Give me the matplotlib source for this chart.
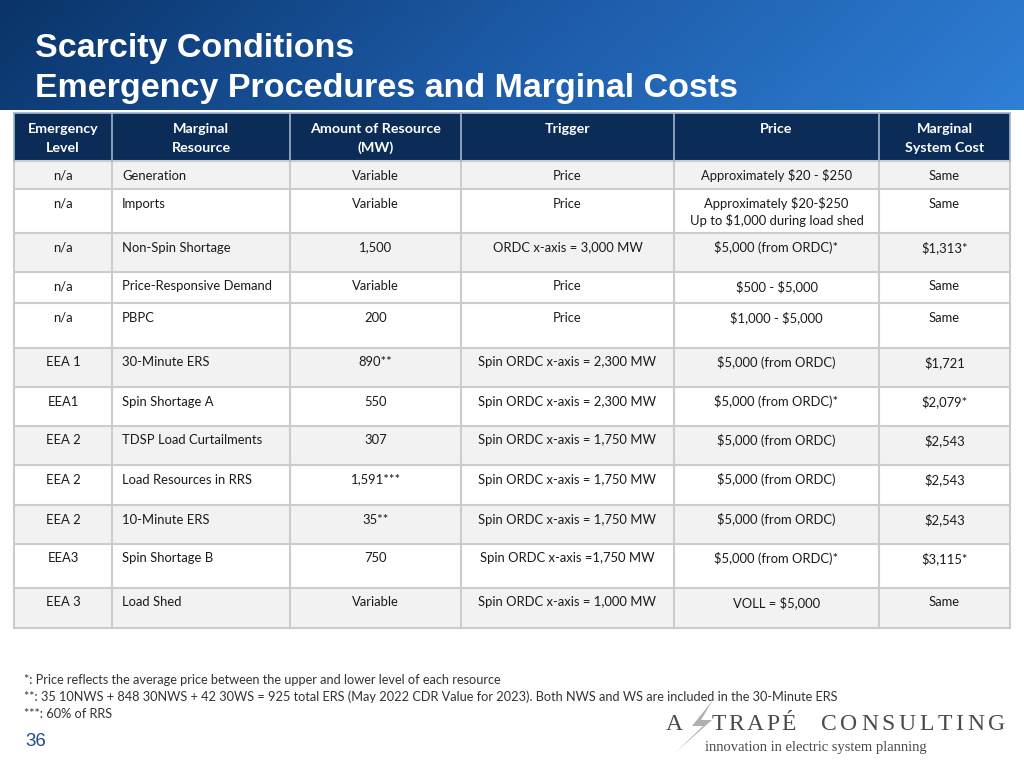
import numpy as np
import matplotlib.pyplot as plt
from matplotlib.patches import Rectangle, Polygon
from matplotlib.colors import LinearSegmentedColormap

plt.rcParams["text.parse_math"] = False

# table content
headers = ["Emergency\nLevel", "Marginal\nResource", "Amount of Resource\n(MW)",
           "Trigger", "Price", "Marginal\nSystem Cost"]
levels = ["n/a", "n/a", "n/a", "n/a", "n/a", "EEA 1", "EEA1", "EEA 2", "EEA 2",
          "EEA 2", "EEA3", "EEA 3"]
resources = ["Generation", "Imports", "Non-Spin Shortage", "Price-Responsive Demand",
             "PBPC", "30-Minute ERS", "Spin Shortage A", "TDSP Load Curtailments",
             "Load Resources in RRS", "10-Minute ERS", "Spin Shortage B", "Load Shed"]
amounts = ["Variable", "Variable", "1,500", "Variable", "200", "890**", "550", "307",
           "1,591***", "35**", "750", "Variable"]
triggers = ["Price", "Price", "ORDC x-axis = 3,000 MW", "Price", "Price",
            "Spin ORDC x-axis = 2,300 MW", "Spin ORDC x-axis = 2,300 MW",
            "Spin ORDC x-axis = 1,750 MW", "Spin ORDC x-axis = 1,750 MW",
            "Spin ORDC x-axis = 1,750 MW", "Spin ORDC x-axis =1,750 MW",
            "Spin ORDC x-axis = 1,000 MW"]
prices = ["Approximately $20 - $250",
          "Approximately $20-$250\nUp to $1,000 during load shed",
          "$5,000 (from ORDC)*", "$500 - $5,000", "$1,000 - $5,000",
          "$5,000 (from ORDC)", "$5,000 (from ORDC)*", "$5,000 (from ORDC)",
          "$5,000 (from ORDC)", "$5,000 (from ORDC)", "$5,000 (from ORDC)*",
          "VOLL = $5,000"]
costs = ["Same", "Same", "$1,313*", "Same", "Same", "$1,721", "$2,079*", "$2,543",
         "$2,543", "$2,543", "$3,115*", "Same"]
footnotes = ["*: Price reflects the average price between the upper and lower level of each resource",
             "**: 35 10NWS + 848 30NWS + 42 30WS = 925 total ERS (May 2022 CDR Value for 2023). Both NWS and WS are included in the 30-Minute ERS",
             "***: 60% of RRS"]

# layout (pixels)
col_edges = [14, 112, 290, 461, 674, 879, 1010]
row_edges = [113, 161, 189, 233, 272, 303, 348, 387, 426, 465, 505, 544, 588, 628]
shaded = [1, 0, 1, 0, 0, 1, 0, 1, 0, 1, 0, 1]
aligns = ["center", "left", "center", "center", "center", "center"]

body_font = ["Lato", "DejaVu Sans"]
NAVY = "#0b2c56"

fig = plt.figure(figsize=(10.24, 7.68), dpi=100)
ax = fig.add_axes([0, 0, 1, 1])
ax.set_xlim(0, 1024)
ax.set_ylim(768, 0)
ax.axis("off")

# title band gradient
cmap = LinearSegmentedColormap.from_list("band", ["#0a3469", "#1d5ba8", "#2f7fd6"])
gx = np.linspace(0, 1, 256)
gy = np.linspace(0, 1, 20)
grad = np.clip(gx[None, :] * 0.9 + gy[:, None] * 0.1, 0, 1)
ax.imshow(grad, cmap=cmap, extent=[0, 1024, 110, 0], aspect="auto", zorder=0)

ax.text(35, 49, "Scarcity Conditions", color="white", fontsize=24.5,
        fontweight="bold", family="Liberation Sans", va="center", ha="left")
ax.text(35, 88, "Emergency Procedures and Marginal Costs", color="white", fontsize=24.5,
        fontweight="bold", family="Liberation Sans", va="center", ha="left")

# header row
ax.add_patch(Rectangle((col_edges[0], row_edges[0]), col_edges[-1] - col_edges[0],
                       row_edges[1] - row_edges[0], facecolor=NAVY, edgecolor="none", zorder=1))
for j, h in enumerate(headers):
    xc = (col_edges[j] + col_edges[j + 1]) / 2
    for k, line in enumerate(h.split("\n")):
        ax.text(xc, 129 + k * 18.5, line, color="white", fontsize=10.3, fontweight="bold",
                family=body_font, ha="center", va="center", zorder=3)

# body rows
columns = [levels, resources, amounts, triggers, prices, costs]
for i in range(len(levels)):
    top, bot = row_edges[i + 1], row_edges[i + 2]
    fc = "#f2f2f2" if shaded[i] else "white"
    ax.add_patch(Rectangle((col_edges[0], top), col_edges[-1] - col_edges[0], bot - top,
                           facecolor=fc, edgecolor="none", zorder=1))
    for j, col in enumerate(columns):
        if aligns[j] == "left":
            x = col_edges[j] + 10
        else:
            x = (col_edges[j] + col_edges[j + 1]) / 2
        for k, line in enumerate(col[i].split("\n")):
            ax.text(x, top + 14.5 + k * 17, line, color="#1a1a1a", fontsize=9.4,
                    family=body_font, ha=aligns[j], va="center", zorder=3)

# grid lines
grid_c = "#cccccc"
for y in row_edges[1:]:
    ax.plot([col_edges[0], col_edges[-1]], [y, y], color=grid_c, lw=1.5, zorder=2)
for x in col_edges:
    ax.plot([x, x], [row_edges[1], row_edges[-1]], color=grid_c, lw=1.5, zorder=2)
for x in col_edges[1:-1]:
    ax.plot([x, x], [row_edges[0], row_edges[1]], color="#9fb6cc", lw=1.2, zorder=2)
ax.plot([col_edges[0], col_edges[-1]], [row_edges[0], row_edges[0]], color="#9fb6cc", lw=1.2, zorder=2)
for x in (col_edges[0], col_edges[-1]):
    ax.plot([x, x], [row_edges[0], row_edges[1]], color="#9fb6cc", lw=1.2, zorder=2)

# footnotes
for k, fn in enumerate(footnotes):
    ax.text(24, 680 + k * 17, fn, color="#333333", fontsize=9.2, family=body_font,
            ha="left", va="center", zorder=3)

ax.text(25, 741, "36", color="#1f4e8c", fontsize=13.5, family="Liberation Sans",
        ha="left", va="center")

# logo
logo_c = "#4a4a4a"
ax.add_patch(Polygon([[713, 700], [692, 726], [703, 726], [676, 752], [712, 720],
                      [701, 720]], closed=True, facecolor="#b0b0b0", edgecolor="none", zorder=2))
ax.text(666, 724, "A", color=logo_c, fontsize=17, family="Liberation Serif",
        ha="left", va="center")

renderer = fig.canvas.get_renderer()
px_per_unit = fig.get_figwidth() * fig.dpi / 1024


def spaced_word(word, x0, x1, y):
    arts = [ax.text(0, y, ch, color=logo_c, fontsize=17, family="Liberation Serif",
                    ha="left", va="center") for ch in word]
    widths = [a.get_window_extent(renderer).width / px_per_unit for a in arts]
    gap = (x1 - x0 - sum(widths)) / (len(word) - 1)
    x = x0
    for a, w in zip(arts, widths):
        a.set_x(x)
        x += w + gap


spaced_word("TRAPÉ", 712, 796, 724)
spaced_word("CONSULTING", 821, 1005, 724)
ax.text(705, 747, "innovation in electric system planning", color=logo_c, fontsize=10.5,
        family="Liberation Serif", ha="left", va="center")

fig.savefig("out.png", dpi=100)
